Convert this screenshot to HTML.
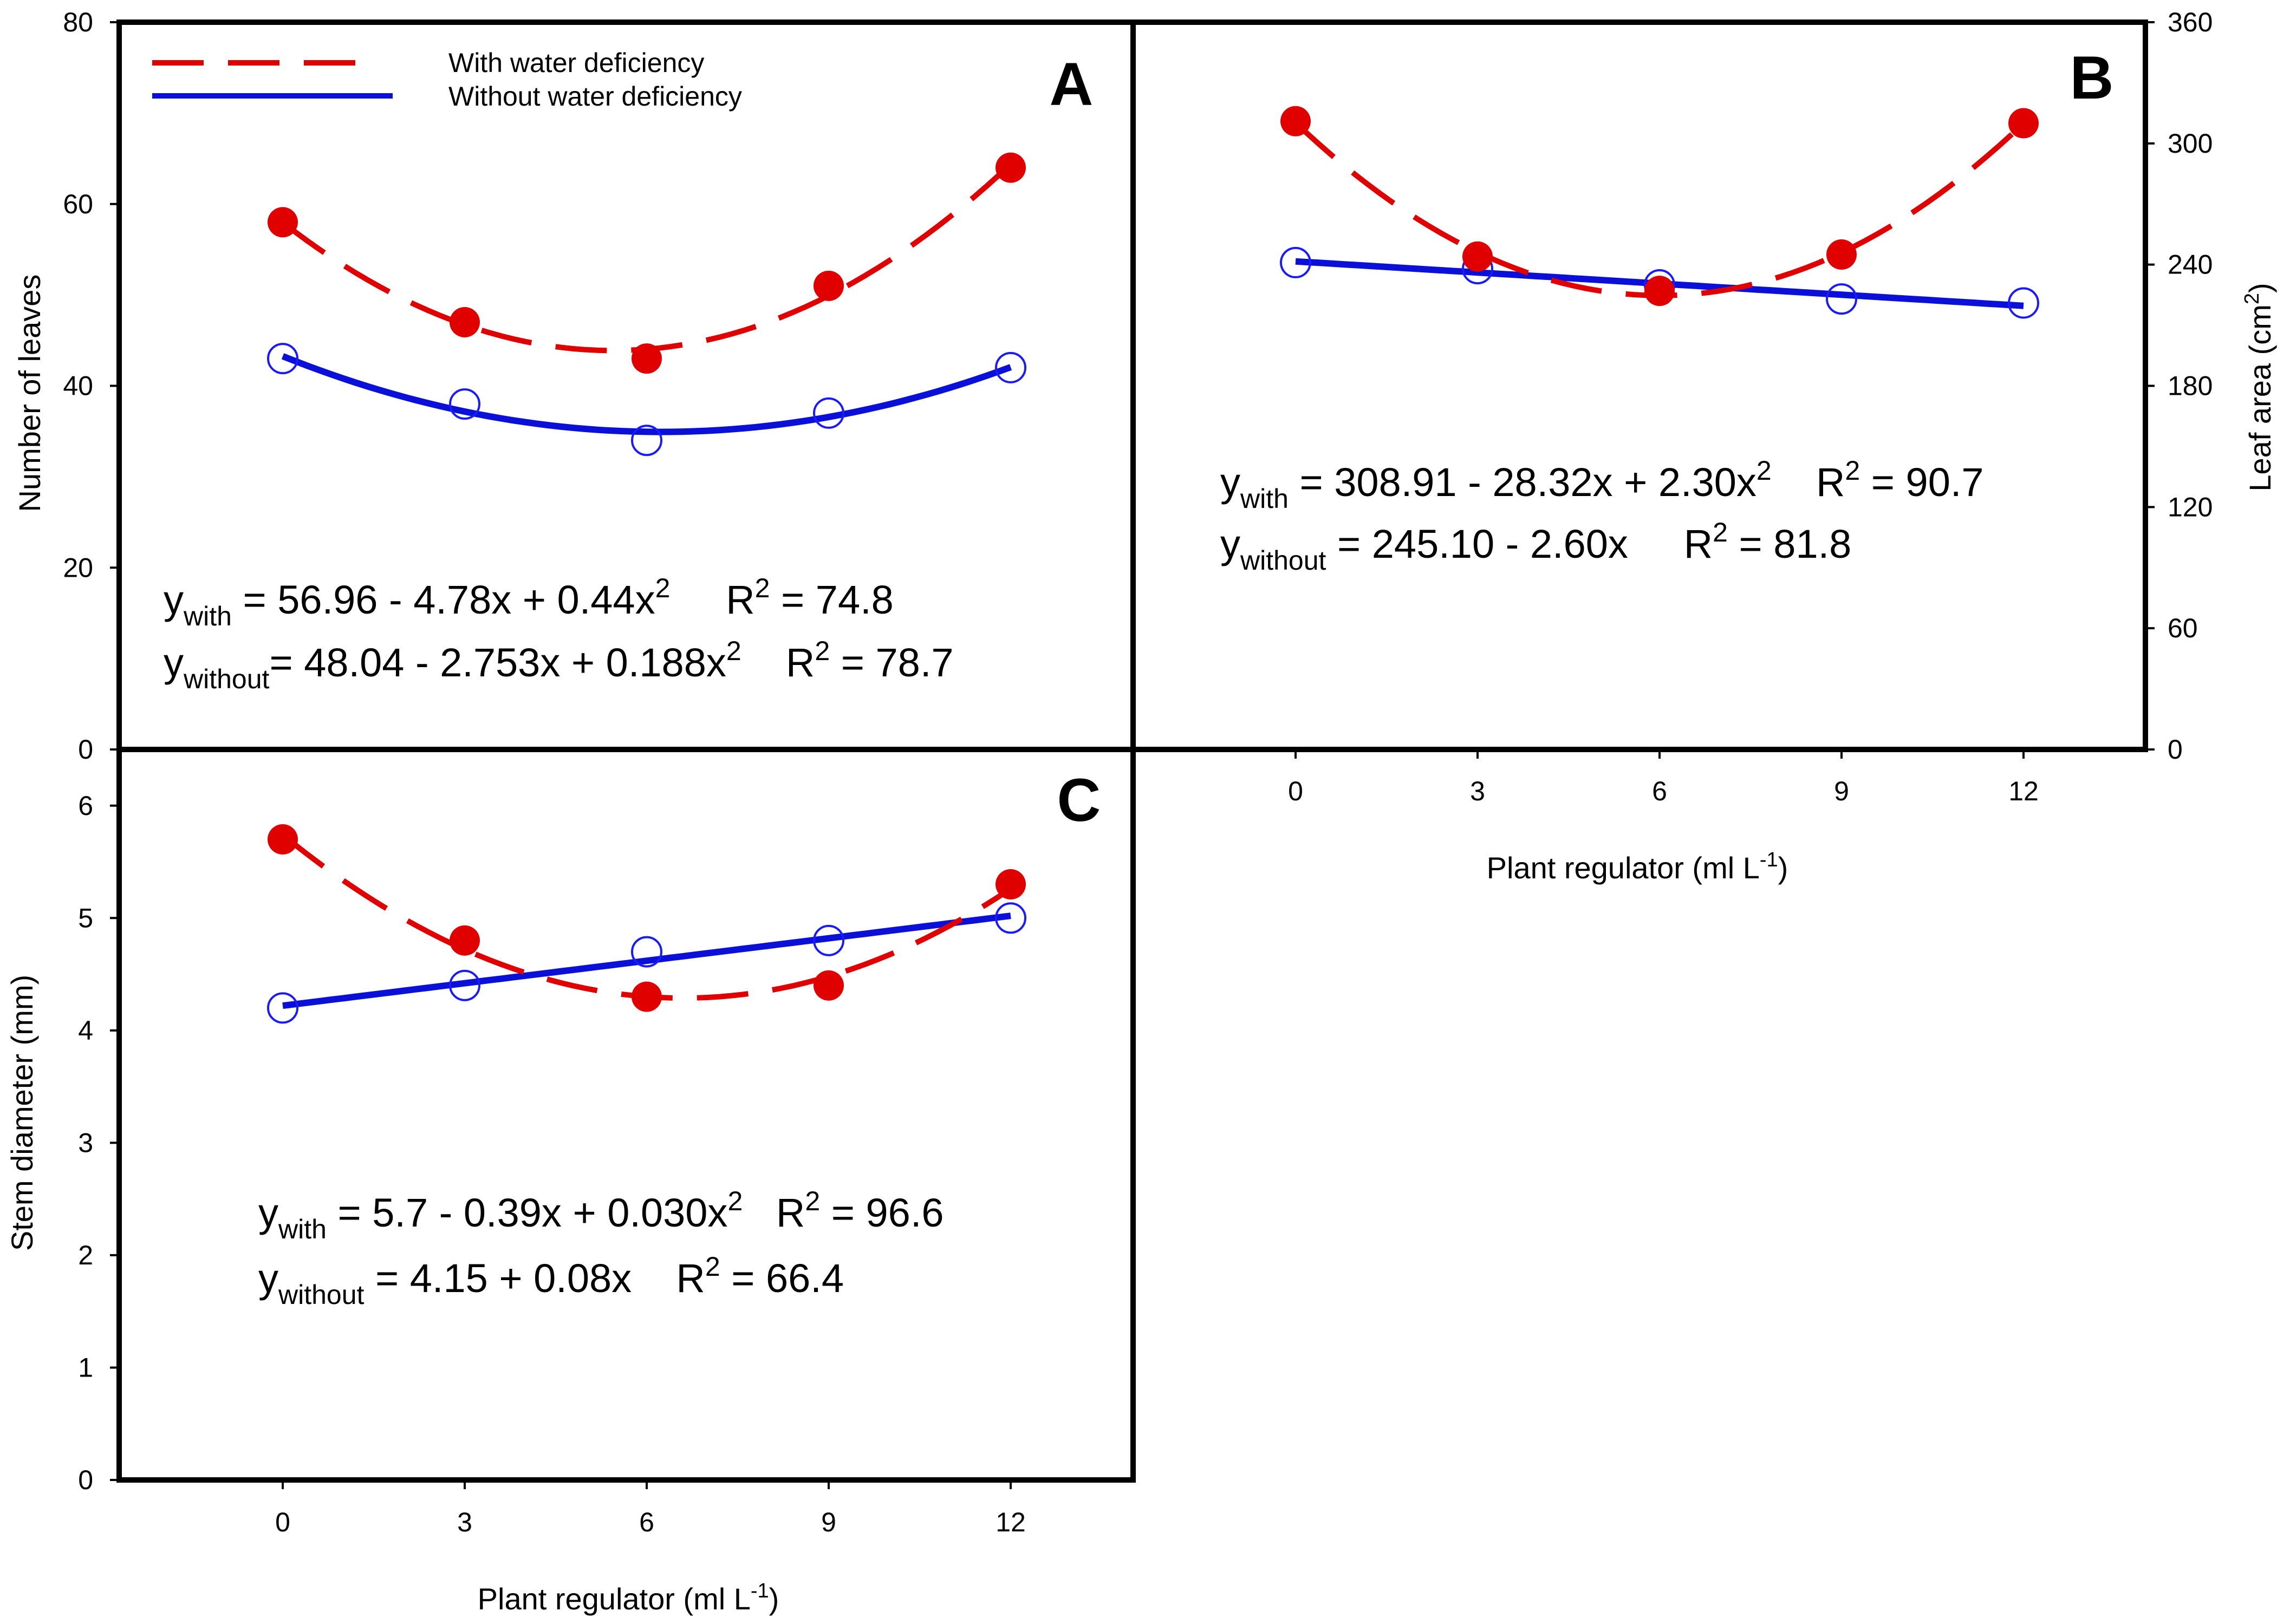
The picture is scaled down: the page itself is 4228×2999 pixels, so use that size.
<!DOCTYPE html>
<html><head><meta charset="utf-8"><style>
html,body{margin:0;padding:0;background:#fff}
svg{display:block;font-family:"Liberation Sans",Arial,sans-serif}
text{white-space:pre}
</style></head><body>
<svg id="fig" width="4228" height="2999" viewBox="0 0 4228 2999" xmlns="http://www.w3.org/2000/svg"></svg>
<script>
const xCats = [0, 3, 6, 9, 12];
const aWith = [58, 47, 43, 51, 64];
const aWithout = [43, 38, 34, 37, 42];
const bWith = [311, 244, 227, 245, 310];
const bWithout = [241, 238, 230, 223, 221];
const cWith = [5.7, 4.8, 4.3, 4.4, 5.3];
const cWithout = [4.2, 4.4, 4.7, 4.8, 5.0];
const aTicks = [0, 20, 40, 60, 80];
const bTicks = [0, 60, 120, 180, 240, 300, 360];
const cTicks = [0, 1, 2, 3, 4, 5, 6];
const xTicks = [0, 3, 6, 9, 12];

const NS = "http://www.w3.org/2000/svg";
const svg = document.getElementById('fig');
function mk(tag, attrs, parent){
  const e = document.createElementNS(NS, tag);
  for (const k in attrs) e.setAttribute(k, attrs[k]);
  (parent||svg).appendChild(e);
  return e;
}
const xScale = v => 522 + v * 112;
const B_OFF = 1870;

function fit(xs, ys, deg){
  const n = deg + 1;
  const M = [], r = [];
  for (let i=0;i<n;i++){ M.push(new Array(n).fill(0)); r.push(0); }
  xs.forEach((x,k)=>{
    for (let i=0;i<n;i++){
      r[i] += ys[k]*Math.pow(x,i);
      for (let j=0;j<n;j++) M[i][j] += Math.pow(x,i+j);
    }
  });
  for (let i=0;i<n;i++){
    let p=i; for(let k=i+1;k<n;k++) if(Math.abs(M[k][i])>Math.abs(M[p][i])) p=k;
    [M[i],M[p]]=[M[p],M[i]]; [r[i],r[p]]=[r[p],r[i]];
    for(let k=0;k<n;k++){ if(k===i) continue; const f=M[k][i]/M[i][i];
      for(let j=i;j<n;j++) M[k][j]-=f*M[i][j]; r[k]-=f*r[i]; }
  }
  return r.map((v,i)=>v/M[i][i]);
}

function panel(name, top, bot, ymax, ticks, withV, withDeg, withoutV, withoutDeg, side, xOff){
  const g = mk('g', {}, svg);
  
  
  const ys = v => bot - v * (bot - top) / ymax;
  const xs = v => xScale(v) + xOff;
  const withoutLine = mk('path', {}, g);
  const cw = fit(xCats, withoutV, withoutDeg);
  let d = '';
  for (let i=0;i<=60;i++){ const x=12*i/60; let y=0; cw.forEach((c,k)=>y+=c*Math.pow(x,k));
    d += (i?'L':'M') + xs(x).toFixed(1) + ',' + ys(y).toFixed(1); }
  withoutLine.setAttribute('d', d);
  withoutLine.setAttribute('fill', 'none'); withoutLine.setAttribute('stroke', '#0a10d8');
  withoutLine.setAttribute('stroke-width', '12');
  
  
  withoutV.forEach((v,i)=>{
    const c = mk('circle', {cx:xs(xCats[i]), cy:ys(v), r:27, fill:'none', stroke:'#1a1aff', 'stroke-width':4}, g);
    
    
  });
  const ww = fit(xCats, withV, withDeg);
  d = '';
  for (let i=0;i<=60;i++){ const x=12*i/60; let y=0; ww.forEach((c,k)=>y+=c*Math.pow(x,k));
    d += (i?'L':'M') + xs(x).toFixed(1) + ',' + ys(y).toFixed(1); }
  const withLine = mk('path', {d:d, fill:'none', stroke:'#e00000', 'stroke-width':10, 'stroke-dasharray':'95 45'}, g);
  
  
  withV.forEach((v,i)=>{
    const c = mk('circle', {cx:xs(xCats[i]), cy:ys(v), r:28, fill:'#e00000'}, g);
    
    
  });
  ticks.forEach(t=>{
    const y = ys(t);
    if (side==='left'){
      mk('line',{x1:203,x2:220,y1:y,y2:y,stroke:'#000','stroke-width':4},g);
      const tx = mk('text',{x:172,y:y+17,'font-size':50,'text-anchor':'end'},g);
      tx.textContent = t;
      
      
    } else {
      mk('line',{x1:3961,x2:3978,y1:y,y2:y,stroke:'#000','stroke-width':4},g);
      const tx = mk('text',{x:4002,y:y+17,'font-size':50,'text-anchor':'start'},g);
      tx.textContent = t;
      
      
    }
  });
  return ys;
}

mk('rect',{x:220,y:41,width:1872,height:1343,fill:'none',stroke:'#000','stroke-width':10,});
mk('rect',{x:2092,y:41,width:1869,height:1343,fill:'none',stroke:'#000','stroke-width':10,});
mk('rect',{x:220,y:1384,width:1872,height:1349,fill:'none',stroke:'#000','stroke-width':10,});

panel('panel-a', 41, 1384, 80, aTicks, aWith, 2, aWithout, 2, 'left', 0);
panel('panel-b', 41, 1384, 360, bTicks, bWith, 2, bWithout, 1, 'right', B_OFF);
panel('panel-c', 1384, 2733, 6.5, cTicks, cWith, 2, cWithout, 1, 'left', 0);

xTicks.forEach(t=>{
  const x = xScale(t);
  mk('line',{x1:x,x2:x,y1:2733,y2:2750,stroke:'#000','stroke-width':4});
  const a = mk('text',{x:x,y:2828,'font-size':50,'text-anchor':'middle'});
  a.textContent = t;
  
  
  const xb = x + B_OFF;
  mk('line',{x1:xb,x2:xb,y1:1384,y2:1401,stroke:'#000','stroke-width':4});
  const b = mk('text',{x:xb,y:1478,'font-size':50,'text-anchor':'middle'});
  b.textContent = t;
  
  
});
</script>
<svg width="4228" height="2999" style="position:absolute;left:0;top:0" xmlns="http://www.w3.org/2000/svg" font-family="Liberation Sans, Arial, sans-serif">
  <g>
    <line x1="281" y1="116" x2="690" y2="116" stroke="#e00000" stroke-width="10" stroke-dasharray="95 45"/>
    <text x="828" y="133" font-size="50">With water deficiency</text>
    <line x1="281" y1="177" x2="725" y2="177" stroke="#0a10d8" stroke-width="10"/>
    <text x="828" y="195" font-size="50">Without water deficiency</text>
  </g>
  <text x="1978" y="194" font-size="112" font-weight="bold" text-anchor="middle">A</text>
  <text x="3862" y="182" font-size="112" font-weight="bold" text-anchor="middle">B</text>
  <text x="1992" y="1516" font-size="112" font-weight="bold" text-anchor="middle">C</text>

  <g font-size="74">
    <text x="302" y="1133">y<tspan font-size="50" dy="22">with</tspan><tspan dy="-22"> = 56.96 - 4.78x + 0.44x</tspan><tspan font-size="50" dy="-30">2</tspan><tspan dy="30">     R</tspan><tspan font-size="50" dy="-30">2</tspan><tspan dy="30"> = 74.8</tspan></text>
    <text x="302" y="1249">y<tspan font-size="50" dy="22">without</tspan><tspan dy="-22">= 48.04 - 2.753x + 0.188x</tspan><tspan font-size="50" dy="-30">2</tspan><tspan dy="30">    R</tspan><tspan font-size="50" dy="-30">2</tspan><tspan dy="30"> = 78.7</tspan></text>
  </g>
  <g font-size="74">
    <text x="2253" y="916">y<tspan font-size="50" dy="22">with</tspan><tspan dy="-22"> = 308.91 - 28.32x + 2.30x</tspan><tspan font-size="50" dy="-30">2</tspan><tspan dy="30">    R</tspan><tspan font-size="50" dy="-30">2</tspan><tspan dy="30"> = 90.7</tspan></text>
    <text x="2253" y="1030">y<tspan font-size="50" dy="22">without</tspan><tspan dy="-22"> = 245.10 - 2.60x     R</tspan><tspan font-size="50" dy="-30">2</tspan><tspan dy="30"> = 81.8</tspan></text>
  </g>
  <g font-size="74">
    <text x="477" y="2265">y<tspan font-size="50" dy="22">with</tspan><tspan dy="-22"> = 5.7 - 0.39x + 0.030x</tspan><tspan font-size="50" dy="-30">2</tspan><tspan dy="30">   R</tspan><tspan font-size="50" dy="-30">2</tspan><tspan dy="30"> = 96.6</tspan></text>
    <text x="477" y="2386">y<tspan font-size="50" dy="22">without</tspan><tspan dy="-22"> = 4.15 + 0.08x    R</tspan><tspan font-size="50" dy="-30">2</tspan><tspan dy="30"> = 66.4</tspan></text>
  </g>

  <text transform="translate(74,726) rotate(-90)" font-size="56" text-anchor="middle">Number of leaves</text>
  <text transform="translate(60,2055) rotate(-90)" font-size="56" text-anchor="middle">Stem diameter (mm)</text>
  <text transform="translate(4192,715) rotate(-90)" font-size="56" text-anchor="middle">Leaf area (cm<tspan font-size="38" dy="-22">2</tspan><tspan dy="22">)</tspan></text>
  <text x="3023" y="1622" font-size="56" text-anchor="middle">Plant regulator (ml L<tspan font-size="38" dy="-22">-1</tspan><tspan dy="22">)</tspan></text>
  <text x="1160" y="2972" font-size="56" text-anchor="middle">Plant regulator (ml L<tspan font-size="38" dy="-22">-1</tspan><tspan dy="22">)</tspan></text>
</svg>
</body></html>
